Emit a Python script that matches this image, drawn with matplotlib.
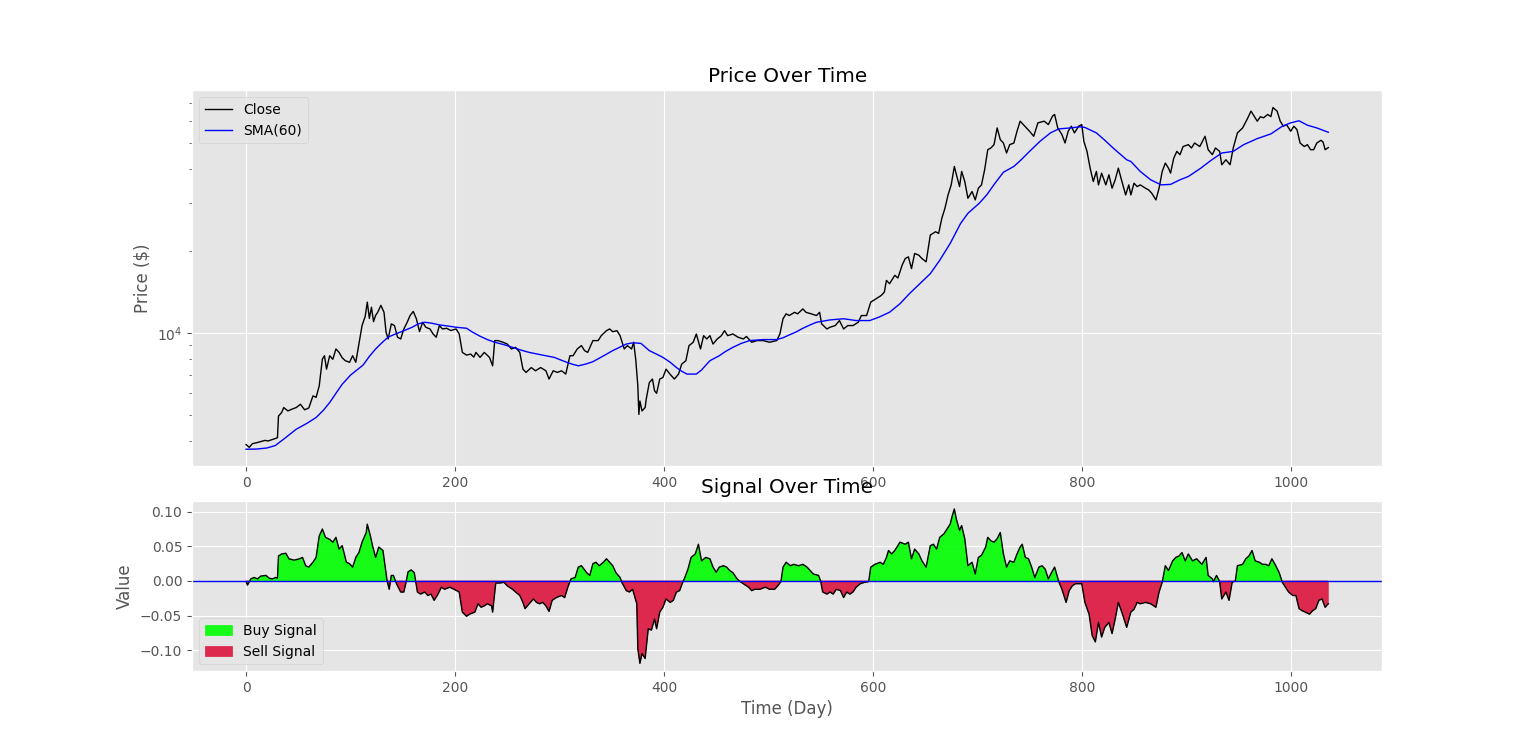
import numpy as np
import matplotlib
matplotlib.use("Agg")
import matplotlib.pyplot as plt

# Close price (day, $)
close_day = [0, 3, 6, 10, 14, 18, 21, 25, 28, 30, 31, 34, 36, 40, 44, 48, 52, 56, 60, 64,
             67, 70, 73, 75, 77, 80, 83, 86, 89, 92, 95, 99, 102, 105, 108, 111, 114, 116, 118, 120,
             122, 124, 126, 129, 132, 134, 136, 139, 142, 145, 148, 151, 154, 157, 160, 163, 166, 169, 172, 176,
             179, 182, 185, 188, 192, 196, 201, 204, 207, 211, 215, 218, 220, 224, 228, 233, 236, 238, 241, 246,
             250, 254, 258, 262, 265, 268, 273, 277, 282, 287, 290, 294, 298, 302, 306, 310, 313, 317, 321, 324,
             327, 332, 337, 340, 345, 348, 351, 355, 358, 362, 365, 369, 371, 373, 375, 376, 377, 379, 382, 383,
             386, 389, 391, 393, 396, 399, 402, 406, 410, 414, 417, 421, 424, 428, 431, 435, 438, 441, 444, 447,
             451, 455, 458, 461, 466, 471, 476, 479, 484, 489, 495, 501, 508, 511, 514, 517, 520, 525, 528, 533,
             536, 541, 546, 549, 551, 556, 559, 564, 568, 572, 576, 581, 586, 589, 594, 598, 603, 608, 611, 613,
             616, 621, 624, 628, 631, 634, 637, 640, 644, 647, 651, 655, 660, 663, 666, 669, 672, 675, 678, 680,
             683, 685, 688, 691, 695, 698, 701, 704, 707, 710, 713, 716, 719, 722, 725, 728, 731, 735, 738, 741,
             744, 747, 750, 754, 758, 764, 768, 772, 774, 777, 781, 784, 787, 790, 793, 797, 800, 802, 805, 808,
             811, 814, 816, 819, 823, 826, 829, 832, 835, 838, 842, 845, 847, 850, 853, 856, 861, 864, 867, 871,
             874, 877, 880, 883, 885, 888, 891, 894, 897, 902, 905, 908, 913, 918, 921, 925, 928, 932, 934, 938,
             942, 945, 949, 954, 959, 962, 966, 968, 971, 974, 978, 981, 983, 987, 990, 993, 996, 1000, 1003, 1006,
             1009, 1013, 1016, 1019, 1022, 1025, 1029, 1031, 1033, 1036]
close_val = [3890, 3800, 3920, 3950, 3990, 4030, 4010, 4060, 4100, 4120, 4950, 5100, 5320, 5170, 5250, 5320, 5470, 5220, 5300, 5870,
             5800, 6390, 8010, 8245, 7360, 8245, 8000, 8730, 8480, 8100, 7905, 7800, 8245, 7800, 9100, 10640, 11500, 12970, 11300, 12420,
             11000, 11600, 11910, 12620, 11910, 10050, 9500, 10790, 10640, 9640, 9500, 10340, 10900, 11580, 11990, 11270, 10110, 10940, 10490, 10340,
             9910, 9640, 10640, 10340, 10400, 10200, 10340, 9910, 8480, 8290, 8360, 8150, 8480, 8130, 8480, 8130, 7570, 9370, 9370, 9240,
             9100, 8730, 8850, 8480, 7360, 7160, 7460, 7260, 7460, 7260, 6770, 7260, 7160, 7260, 7060, 8245, 8245, 8730, 8980, 8610,
             8480, 9370, 9370, 9770, 10190, 10340, 10100, 10190, 9770, 8730, 8980, 8730, 9240, 7990, 6390, 5020, 5620, 5170, 5320, 5700,
             6570, 6770, 6130, 6000, 6770, 6860, 7360, 7040, 6770, 7060, 7680, 7905, 8980, 9240, 9910, 8730, 9770, 9500, 9770, 9100,
             9500, 9770, 10190, 9770, 9910, 9640, 9500, 9700, 9240, 9370, 9370, 9240, 9370, 9910, 11270, 11750, 11580, 11900, 11750, 12250,
             11900, 11750, 11580, 11900, 10790, 10340, 10490, 10640, 11100, 10340, 10640, 10640, 10940, 11580, 11580, 12970, 13340, 13720, 14120, 15590,
             15160, 16270, 15910, 17720, 18750, 19020, 17220, 19570, 19290, 18750, 18230, 22870, 23520, 23190, 26330, 28680, 32110, 34950, 40850, 38060,
             34460, 39160, 35970, 31220, 33040, 30780, 33980, 34950, 39710, 47070, 47740, 49110, 56570, 51230, 49800, 45760, 49110, 49800, 55000, 59890,
             58210, 56570, 55000, 52720, 59050, 59890, 58210, 62500, 63390, 56570, 53470, 49800, 55000, 57400, 54240, 57400, 58210, 50510, 46400, 40270,
             35970, 39160, 34950, 38610, 34950, 38060, 33980, 36480, 40270, 36480, 32110, 34950, 32110, 35460, 34460, 34950, 33980, 33500, 32570, 30780,
             33980, 39160, 42030, 40270, 38610, 43740, 46400, 45110, 48340, 49110, 47740, 49800, 48340, 52720, 47070, 45110, 47740, 46400, 41440, 43220,
             41440, 47740, 54240, 56570, 61620, 65210, 61620, 59890, 62200, 61620, 63390, 62200, 67200, 65210, 59890, 57400, 58210, 55000, 57400, 55790,
             49800, 48340, 49110, 47070, 47070, 49800, 50950, 50200, 47070, 47900]

# 60-day simple moving average
sma_day = [0, 10, 20, 28, 38, 48, 58, 67, 74, 80, 86, 92, 100, 112, 118, 124, 130, 136, 143, 150,
           159, 165, 171, 178, 185, 193, 201, 211, 217, 224, 231, 238, 247, 255, 263, 271, 283, 295, 301, 307,
           312, 318, 325, 332, 340, 351, 358, 364, 369, 374, 378, 386, 393, 399, 406, 412, 417, 422, 431, 436,
           444, 453, 459, 466, 474, 482, 495, 508, 514, 520, 527, 533, 540, 546, 559, 572, 584, 597, 606, 616,
           626, 635, 645, 655, 664, 674, 684, 691, 702, 709, 717, 725, 735, 741, 750, 760, 770, 778, 789, 798,
           803, 814, 822, 830, 843, 847, 856, 866, 876, 885, 894, 902, 914, 923, 934, 945, 955, 968, 981, 992,
           1000, 1008, 1016, 1025, 1036]
sma_val = [3740, 3745, 3780, 3860, 4130, 4430, 4650, 4890, 5200, 5550, 6000, 6480, 7000, 7620, 8200, 8730, 9200, 9650, 9910, 10150,
           10490, 10800, 10940, 10850, 10700, 10600, 10490, 10400, 10050, 9720, 9450, 9240, 9050, 8850, 8650, 8480, 8300, 8130, 7960, 7800,
           7680, 7570, 7680, 7840, 8150, 8610, 8870, 9100, 9180, 9180, 9150, 8610, 8350, 8130, 7800, 7460, 7230, 7060, 7060, 7310,
           7905, 8245, 8550, 8850, 9150, 9370, 9450, 9450, 9600, 9830, 10100, 10400, 10700, 10940, 11160, 11270, 11100, 11100, 11430, 11910,
           12800, 13930, 15160, 16500, 18470, 21300, 25230, 27480, 29960, 32110, 35460, 38900, 40850, 42850, 46400, 50510, 54240, 56110, 56570, 57100,
           56800, 54240, 51000, 47740, 43220, 42600, 39160, 36480, 34950, 35100, 36480, 37520, 40270, 42800, 45760, 46400, 49110, 51690, 53770, 57400,
           59050, 60100, 57880, 56570, 54540]

# signal values
sig_day = [0, 1.3, 4.5, 7.7, 11, 14, 19, 22, 25, 28.4, 30, 31, 34, 38, 41, 46, 51, 54, 57, 60,
           64, 67, 70, 73, 76, 80, 83, 86, 89, 92, 96, 99, 102, 105, 108, 111, 115, 116, 119, 121,
           124, 127, 131, 133, 135, 137, 139, 141, 144, 148, 151, 153, 155, 158, 161, 164, 167, 171, 174, 177,
           180, 183, 187, 190, 195, 199, 204, 207, 211, 214, 219, 222, 225, 228, 231, 235, 236, 239, 243, 247,
           250, 255, 258, 262, 265, 267, 271, 275, 278, 281, 284, 287, 290, 293, 297, 302, 305, 308, 311, 315,
           318, 321, 326, 329, 332, 335, 338, 342, 345, 348, 351, 354, 358, 360, 364, 367, 370, 374, 375, 377,
           379, 382, 385, 388, 391, 393, 396, 399, 402, 406, 409, 412, 415, 418, 420, 423, 426, 430, 433, 436,
           440, 444, 447, 450, 453, 457, 460, 463, 466, 470, 473, 476, 481, 484, 487, 492, 497, 501, 506, 509,
           512, 514, 517, 521, 524, 529, 533, 537, 540, 543, 548, 550, 552, 556, 559, 562, 565, 569, 572, 575,
           578, 581, 584, 588, 592, 596, 598, 602, 607, 610, 613, 615, 618, 621, 626, 631, 634, 637, 640, 644,
           647, 651, 655, 658, 661, 664, 668, 671, 674, 676, 678, 680, 683, 685, 688, 691, 695, 698, 701, 704,
           708, 710, 713, 716, 719, 722, 725, 728, 731, 735, 738, 741, 743, 746, 749, 752, 755, 759, 762, 765,
           768, 771, 774, 778, 781, 785, 788, 791, 794, 797, 800, 803, 807, 810, 813, 816, 819, 822, 826, 829,
           832, 835, 839, 843, 847, 850, 853, 856, 861, 866, 871, 874, 877, 880, 883, 887, 890, 893, 896, 899,
           902, 906, 910, 915, 919, 921, 925, 926, 929, 932, 934, 938, 941, 944, 947, 949, 954, 957, 960, 963,
           966, 970, 973, 976, 979, 982, 985, 989, 992, 995, 998, 1002, 1005, 1008, 1011, 1014, 1018, 1021, 1024, 1027,
           1030, 1033, 1036]
sig_val = [-0.001, -0.006, 0.003, 0.005, 0.003, 0.007, 0.008, 0.004, 0.003, 0.005, 0.004, 0.036, 0.039, 0.040, 0.032, 0.030, 0.032, 0.034, 0.022, 0.020,
           0.027, 0.034, 0.065, 0.075, 0.063, 0.060, 0.056, 0.063, 0.046, 0.051, 0.027, 0.025, 0.020, 0.034, 0.041, 0.056, 0.070, 0.082, 0.065, 0.051,
           0.034, 0.049, 0.044, 0.022, 0.000, -0.012, 0.008, 0.008, -0.004, -0.016, -0.016, -0.003, 0.013, 0.016, 0.012, -0.016, -0.019, -0.016, -0.021, -0.019,
           -0.028, -0.021, -0.009, -0.012, -0.009, -0.012, -0.016, -0.045, -0.051, -0.048, -0.045, -0.033, -0.038, -0.036, -0.033, -0.036, -0.045, -0.003, -0.003, -0.002,
           -0.007, -0.012, -0.016, -0.021, -0.031, -0.040, -0.033, -0.026, -0.031, -0.033, -0.031, -0.036, -0.044, -0.028, -0.024, -0.021, -0.024, -0.009, 0.003, 0.005,
           0.020, 0.022, 0.012, 0.008, 0.025, 0.027, 0.022, 0.027, 0.032, 0.027, 0.022, 0.012, 0.005, -0.003, -0.014, -0.016, -0.012, -0.033, -0.098, -0.119,
           -0.105, -0.112, -0.069, -0.071, -0.055, -0.069, -0.045, -0.038, -0.026, -0.031, -0.028, -0.016, -0.014, -0.002, 0.005, 0.017, 0.034, 0.039, 0.053, 0.029,
           0.034, 0.032, 0.020, 0.0125, 0.020, 0.022, 0.020, 0.015, 0.012, 0.003, -0.001, -0.004, -0.009, -0.014, -0.012, -0.012, -0.009, -0.012, -0.012, -0.007,
           -0.001, 0.020, 0.027, 0.022, 0.024, 0.022, 0.024, 0.020, 0.015, 0.010, 0.008, 0.000, -0.016, -0.019, -0.016, -0.019, -0.012, -0.014, -0.024, -0.016,
           -0.019, -0.016, -0.009, -0.004, -0.002, -0.001, 0.020, 0.024, 0.027, 0.024, 0.034, 0.044, 0.039, 0.044, 0.056, 0.053, 0.056, 0.032, 0.046, 0.039,
           0.029, 0.020, 0.051, 0.053, 0.046, 0.063, 0.068, 0.075, 0.082, 0.094, 0.104, 0.089, 0.073, 0.080, 0.061, 0.022, 0.027, 0.010, 0.034, 0.037,
           0.049, 0.063, 0.058, 0.056, 0.061, 0.070, 0.039, 0.020, 0.029, 0.027, 0.039, 0.049, 0.053, 0.034, 0.032, 0.020, 0.005, 0.020, 0.022, 0.017,
           0.003, 0.012, 0.020, -0.001, -0.012, -0.031, -0.014, -0.007, -0.004, -0.004, -0.004, -0.031, -0.048, -0.079, -0.088, -0.060, -0.081, -0.067, -0.060, -0.076,
           -0.055, -0.031, -0.048, -0.067, -0.045, -0.041, -0.031, -0.033, -0.031, -0.033, -0.038, -0.016, -0.002, 0.022, 0.015, 0.029, 0.034, 0.036, 0.041, 0.029,
           0.039, 0.029, 0.032, 0.024, 0.034, 0.008, 0.003, -0.001, 0.008, -0.001, -0.026, -0.016, -0.028, -0.002, 0.000, 0.022, 0.024, 0.032, 0.036, 0.044,
           0.029, 0.027, 0.024, 0.024, 0.022, 0.032, 0.024, 0.012, -0.002, -0.009, -0.016, -0.021, -0.021, -0.040, -0.043, -0.045, -0.048, -0.043, -0.040, -0.028,
           -0.026, -0.038, -0.033]

plt.style.use('ggplot')

fig, (ax1, ax2) = plt.subplots(2, 1, figsize=(15.36, 7.54), dpi=100,
                               gridspec_kw={'height_ratios': [374, 169], 'hspace': 0.128})

# price panel
ax1.plot(close_day, close_val, color='black', lw=1, label='Close')
ax1.plot(sma_day, sma_val, color='blue', lw=1, label='SMA(60)')
ax1.set_yscale('log')
ax1.set_title('Price Over Time', color='black')
ax1.set_ylabel('Price ($)')
ax1.legend(loc='upper left')

# signal panel
sig = np.array(sig_val)
ax2.fill_between(sig_day, sig, 0, where=sig >= 0, interpolate=True,
                 color='lime', alpha=0.9, label='Buy Signal')
ax2.fill_between(sig_day, sig, 0, where=sig < 0, interpolate=True,
                 color='crimson', alpha=0.9, label='Sell Signal')
ax2.plot(sig_day, sig, color='black', lw=1)
ax2.axhline(0, color='blue', lw=1)
ax2.set_title('Signal Over Time', color='black')
ax2.set_xlabel('Time (Day)')
ax2.set_ylabel('Value')
ax2.legend(loc='lower left')

fig.savefig('out.png', dpi=100)
